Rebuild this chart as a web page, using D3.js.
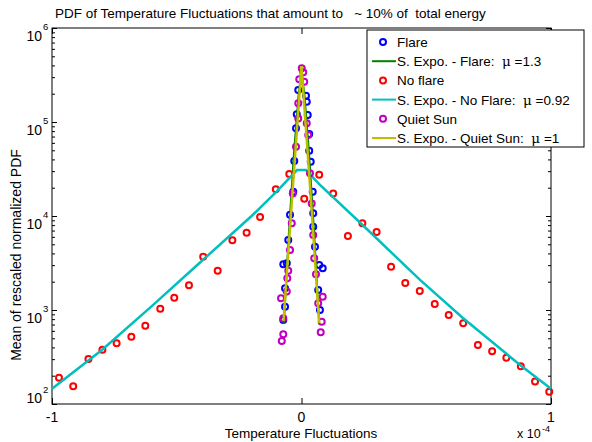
<!doctype html>
<html lang="en">
  <head>
    <meta charset="UTF-8" />
    <title>PDF of Temperature Fluctuations</title>
    <script src="https://cdn.jsdelivr.net/npm/d3@7"></script>
    <style>
      body { margin: 0; background: #fff; }
      svg { font-family: "Liberation Sans", Arial, sans-serif; }
      .pre { white-space: pre; }
    </style>
  </head>
  <body>
    <div id="chart"></div>
    <script>
      // x values are in units of 1e-4 (axis shows "x 10^-4")
      const noFlareX = [-0.972, -0.915, -0.854, -0.798, -0.741, -0.682, -0.626, -0.566, -0.510, -0.451, -0.394, -0.336, -0.277, -0.220, -0.166, -0.103, -0.049, 0.011, 0.071, 0.127, 0.186, 0.244, 0.301, 0.359, 0.416, 0.474, 0.534, 0.590, 0.648, 0.707, 0.764, 0.821, 0.879, 0.936, 0.993];
      const noFlareY = [190, 154, 301, 378, 442, 520, 680, 1030, 1350, 1830, 3690, 2620, 5510, 6640, 9750, 19200, 28000, 15300, 27500, 17400, 6130, 8360, 6760, 2890, 1940, 1590, 1160, 885, 722, 424, 364, 311, 252, 173, 135];

      const flareX = [-0.013, 0.018, 0.021, -0.019, 0.025, -0.022, 0.031, 0.031, -0.029, 0.037, -0.033, 0.045, -0.046, 0.047, 0.047, -0.053, 0.054, -0.073, -0.059, 0.071, 0.085, -0.066, 0.067, -0.066, 0.074, -0.073];
      const flareY = [219000, 190000, 164000, 121000, 119000, 85700, 74500, 49500, 38500, 37800, 18100, 18100, 10300, 10700, 7690, 5560, 4710, 3060, 3140, 3010, 2780, 1700, 1630, 1080, 1000, 783];

      const quietX = [0.001, 0.007, -0.009, 0.011, -0.013, -0.013, 0.021, 0.027, -0.022, 0.034, -0.035, 0.041, -0.039, 0.047, -0.046, 0.051, -0.053, 0.058, -0.057, -0.059, 0.085, -0.082, 0.067, -0.073, 0.081, -0.073, 0.077, -0.079];
      const quietY = [373000, 338000, 285000, 268000, 158000, 109000, 96900, 72800, 54600, 28500, 17400, 13600, 8360, 6280, 4350, 3550, 2620, 2400, 2170, 1570, 1380, 1330, 1180, 816, 751, 551, 579, 468];

      // fitted curves
      const flareFitX = [-0.071, -0.05, -0.03, -0.012, 0, 0.012, 0.03, 0.05, 0.071];
      const flareFitY = [710, 6900, 47000, 190000, 355000, 190000, 47000, 6900, 710];
      const noFlareFitX = [-1, -0.8, -0.6, -0.4, -0.2, -0.1, -0.018, 0.018, 0.074, 0.245, 0.475, 0.647, 0.876, 1];
      const noFlareFitY = [145, 375, 1100, 3320, 10000, 18200, 30800, 30800, 21400, 8020, 2090, 822, 260, 145];
      const quietFitX = [-0.072, -0.036, 0, 0.036, 0.071];
      const quietFitY = [764, 18000, 394000, 17500, 727];

      const xTicks = [-1, 0, 1];
      const decades = [2, 3, 4, 5, 6];

      const legendLabels = ["Flare", "S. Expo. - Flare:", "No flare", "S. Expo. - No Flare:", "Quiet Sun", "S. Expo. - Quiet Sun:"];
      const legendMu = [null, "1.3", null, "0.92", null, "1"];

      const width = 592, height = 442;
      const mLeft = 52, mRight = 551, mTop = 28, mBottom = 404;

      const svg = d3.select("#chart").append("svg")
        .attr("width", width).attr("height", height);

      const x = d3.scaleLinear().domain([-1, 1]).range([mLeft, mRight]);
      const y = d3.scaleLog().domain([100, 1e6]).range([mBottom, mTop]);

      // y ticks: majors at decades, minors at 2..9
      const yTickVals = [];
      for (let p = 2; p < 6; p++) for (let m = 1; m < 10; m++) yTickVals.push(m * Math.pow(10, p));
      yTickVals.push(1e6);
      const isMajor = v => Math.abs(Math.log10(v) - Math.round(Math.log10(v))) < 1e-9;

      const styleAxis = g => {
        g.select(".domain").remove();
        g.selectAll("line").attr("stroke", "#000").attr("stroke-width", 1);
        g.selectAll("text").remove();
      };

      svg.append("g").attr("transform", `translate(${mLeft},0)`)
        .call(d3.axisLeft(y).tickValues(yTickVals).tickSizeInner(-5).tickSizeOuter(0))
        .call(styleAxis)
        .selectAll(".tick line").attr("x2", d => isMajor(d) ? 5 : 3);
      svg.append("g").attr("transform", `translate(${mRight},0)`)
        .call(d3.axisRight(y).tickValues(yTickVals).tickSizeInner(-5).tickSizeOuter(0))
        .call(styleAxis)
        .selectAll(".tick line").attr("x2", d => isMajor(d) ? -5 : -3);
      svg.append("g").attr("transform", `translate(0,${mBottom})`)
        .call(d3.axisBottom(x).tickValues(xTicks).tickSizeInner(-6).tickSizeOuter(0))
        .call(styleAxis);
      svg.append("g").attr("transform", `translate(0,${mTop})`)
        .call(d3.axisTop(x).tickValues(xTicks).tickSizeInner(-6).tickSizeOuter(0))
        .call(styleAxis);

      // box
      svg.append("rect")
        .attr("x", mLeft).attr("y", mTop)
        .attr("width", mRight - mLeft).attr("height", mBottom - mTop)
        .attr("fill", "none").attr("stroke", "#000").attr("stroke-width", 1);

      // x tick labels
      svg.append("g").selectAll("text").data(xTicks).join("text")
        .attr("x", d => x(d)).attr("y", 422)
        .attr("text-anchor", "middle").attr("font-size", 14)
        .text(d => d);

      // y tick labels 10^n
      const yl = svg.append("g");
      decades.forEach(p => {
        const ty = y(Math.pow(10, p));
        const low = p === 2;
        yl.append("text").attr("x", 42).attr("y", ty + (low ? -1 : 13))
          .attr("text-anchor", "end").attr("font-size", 14).text("10");
        yl.append("text").attr("x", 43).attr("y", ty + (low ? -11 : 2))
          .attr("font-size", 9.5).text(p);
      });

      // x multiplier
      svg.append("text").attr("x", 517).attr("y", 438).attr("font-size", 12.5).text("x 10");
      svg.append("text").attr("x", 542).attr("y", 432).attr("font-size", 9).text("-4");

      // labels and title
      svg.append("text").attr("x", 301).attr("y", 438)
        .attr("text-anchor", "middle").attr("font-size", 13.5)
        .text("Temperature Fluctuations");
      svg.append("text").attr("transform", "translate(21,255) rotate(-90)")
        .attr("text-anchor", "middle").attr("font-size", 14)
        .text("Mean of rescaled normalized PDF");
      svg.append("text").attr("class", "pre").attr("x", 55).attr("y", 18)
        .attr("font-size", 13.5)
        .text("PDF of Temperature Fluctuations that amount to   ~ 10% of  total energy");

      const plot = svg.append("g");
      const line = d3.line().x(d => x(d[0])).y(d => y(d[1]));
      const zip = (a, b) => a.map((v, i) => [v, b[i]]);

      const drawPoints = (xs, ys, color) => {
        plot.append("g").selectAll("circle").data(zip(xs, ys)).join("circle")
          .attr("cx", d => x(d[0])).attr("cy", d => y(d[1])).attr("r", 3)
          .attr("fill", "none").attr("stroke", color).attr("stroke-width", 2);
      };
      const drawLine = (xs, ys, color, w) => {
        plot.append("path").datum(zip(xs, ys)).attr("d", line)
          .attr("fill", "none").attr("stroke", color).attr("stroke-width", w);
      };

      const cBlue = "#0000ff", cGreen = "#008000", cRed = "#ff0000",
            cCyan = "#00bfbf", cMag = "#bf00bf", cYel = "#bfbf00";

      drawPoints(flareX, flareY, cBlue);
      drawLine(flareFitX, flareFitY, cGreen, 2);
      drawPoints(noFlareX, noFlareY, cRed);
      drawLine(noFlareFitX, noFlareFitY, cCyan, 2.5);
      drawPoints(quietX, quietY, cMag);
      drawLine(quietFitX, quietFitY, cYel, 2.5);

      // legend
      const lg = svg.append("g");
      lg.append("rect").attr("x", 367).attr("y", 30).attr("width", 217).attr("height", 117)
        .attr("fill", "#fff").attr("stroke", "#000").attr("stroke-width", 1);
      const legendColors = [cBlue, cGreen, cRed, cCyan, cMag, cYel];
      legendLabels.forEach((lab, i) => {
        const ly = 42 + i * 19.2;
        if (legendMu[i] === null) {
          lg.append("circle").attr("cx", 383).attr("cy", ly).attr("r", 3)
            .attr("fill", "none").attr("stroke", legendColors[i]).attr("stroke-width", 2);
        } else {
          lg.append("line").attr("x1", 372).attr("x2", 396).attr("y1", ly).attr("y2", ly)
            .attr("stroke", legendColors[i]).attr("stroke-width", 2);
        }
        const t = lg.append("text").attr("class", "pre").attr("x", 397).attr("y", ly + 5)
          .attr("font-size", 13.5).text(lab);
        if (legendMu[i] !== null) {
          t.append("tspan").text("  ");
          t.append("tspan").attr("font-family", "'DejaVu Serif', serif").text("\u03bc");
          t.append("tspan").text(" =" + legendMu[i]);
        }
      });
    </script>
  </body>
</html>
